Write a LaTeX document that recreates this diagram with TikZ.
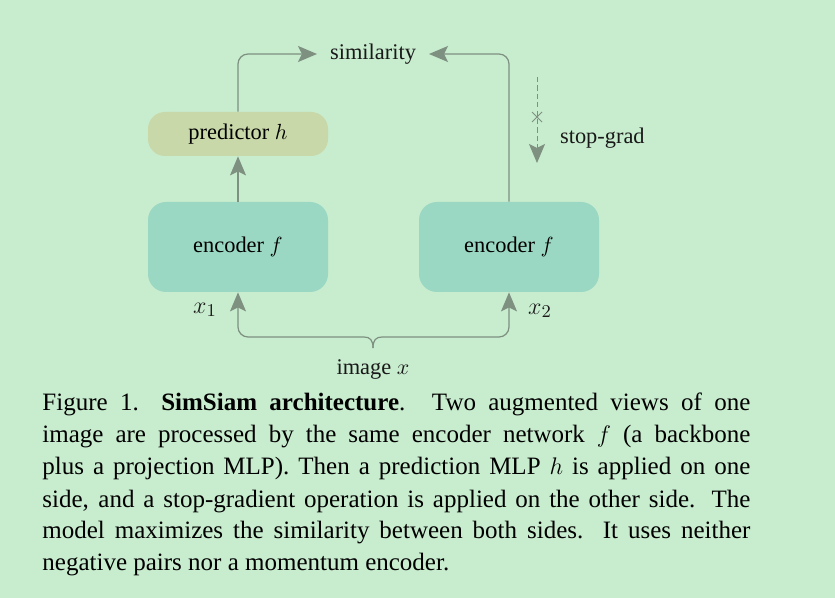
\documentclass[tikz,border=0pt]{standalone}
\usepackage{fontspec}
\setmainfont{Liberation Serif}
\usepackage{amsmath}
\usetikzlibrary{arrows.meta, shapes.misc}
\definecolor{bggreen}{RGB}{200,236,206}
\definecolor{encteal}{RGB}{154,216,196}
\definecolor{predolive}{RGB}{200,216,168}
\definecolor{arrgray}{RGB}{126,144,128}
\begin{document}
\begin{tikzpicture}[x = 0.5pt, y = -0.5pt, font = \fontsize{11.2}{13}\selectfont,
	enc/.style = {fill = encteal, rounded corners = 9pt, minimum width = 90pt, minimum height = 45pt},
	pred/.style = {fill = predolive, rounded corners = 8.5pt, minimum width = 90pt, minimum height = 22pt},
	lbl/.style = {text = black!90},
	xlbl/.style = {text = black!90, font = \fontsize{13}{15}\selectfont},
	arr/.style = {draw = arrgray, line width = 0.6pt, -{Stealth[length = 9.5pt, width = 8pt, inset = 2pt]}},
	cut/.style = {cross out, draw = arrgray, line width = 0.5pt, minimum size = 4.5pt, inner sep = 0pt}]
	\fill[bggreen] (0,0) rectangle (835,598);
	\useasboundingbox (0,0) rectangle (835,598);
	\node[enc] (enc1) at (238,247) {encoder $f$};
	\node[enc] (enc2) at (509,247) {encoder $f$};
	\node[pred] (pred) at (238,134) {predictor $h$};
	\node[lbl] (sim) at (373,54) {similarity};
	\node[lbl, anchor = west] (sg) at (553,138) {stop-grad};
	\node[xlbl] (x1) at (205,310) {$x_1$};
	\node[xlbl] (x2) at (540,311) {$x_2$};
	\node[lbl] (img) at (373,370) {image $x$};
	\node[cut] (cut) at (537,117) {};
	\coordinate (sgtop) at (537,77);
	\coordinate (sgend) at (537,163);
	\coordinate (cusp) at (373,348);
	\coordinate (bl) at (364,337);
	\coordinate (br) at (382,337);
	\draw[arr] (enc1) -- (pred);
	\draw[arr, rounded corners = 5pt, shorten >= 3pt] (pred.north) |- (sim.west);
	\draw[arr, rounded corners = 5pt, shorten >= 3pt] (enc2.north) |- (sim.east);
	\draw[arr, dash pattern = on 2.6pt off 1.6pt, line width = 0.5pt] (sgtop) -- (sgend);
	\draw[arr] (cusp) .. controls (373,340) and (370,337) .. (bl) [rounded corners = 5pt] -| (enc1.south);
	\draw[arr] (cusp) .. controls (373,340) and (376,337) .. (br) [rounded corners = 5pt] -| (enc2.south);
	\node[anchor = base west, inner sep = 0pt] (cap) at (42,411) {\parbox[t]{354pt}{\fontsize{12.5}{16}\selectfont\hyphenpenalty=10000
		Figure 1.\hspace{0.9em}\textbf{SimSiam architecture}. Two augmented views of one\linebreak
		image are processed by the same encoder network $f$ (a backbone\linebreak
		plus a projection MLP). Then a prediction MLP $h$ is applied on one\linebreak
		side, and a stop-gradient operation is applied on the other side. The\linebreak
		model maximizes the similarity between both sides. It uses neither\linebreak
		negative pairs nor a momentum encoder.}};
\end{tikzpicture}
\end{document}
